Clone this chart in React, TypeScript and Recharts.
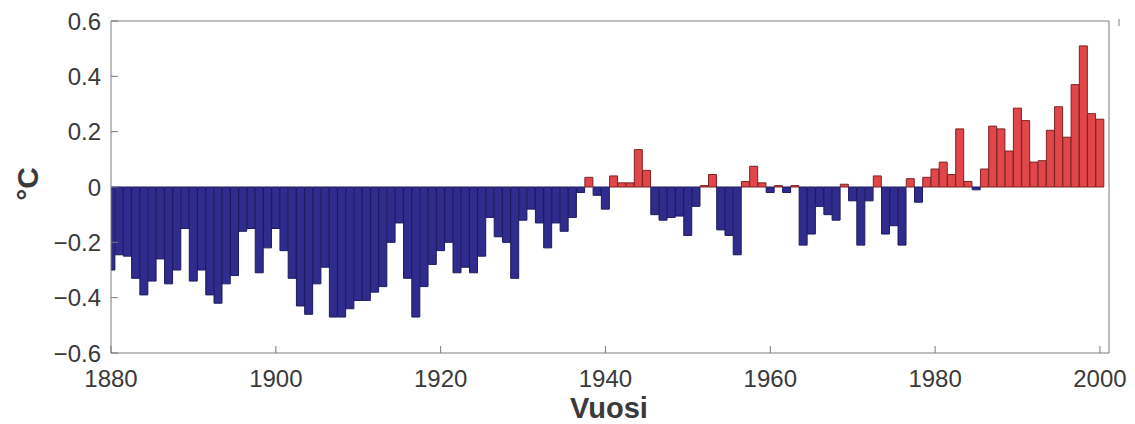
import { BarChart, Bar, XAxis, YAxis, Cell, ReferenceLine } from "recharts";

// vuosittaiset lämpötilapoikkeamat 1880–2000 (°C), luettu kuvasta
const FIRST_YEAR = 1880;
const anomalies = [
  -0.30, -0.245, -0.25, -0.33, -0.39, -0.34, -0.26, -0.35, -0.30, -0.15,
  -0.34, -0.30, -0.39, -0.42, -0.35, -0.32, -0.16, -0.15, -0.31, -0.22,
  -0.15, -0.23, -0.33, -0.43, -0.46, -0.35, -0.29, -0.47, -0.47, -0.44,
  -0.41, -0.41, -0.38, -0.36, -0.20, -0.13, -0.33, -0.47, -0.36, -0.28,
  -0.23, -0.20, -0.31, -0.29, -0.31, -0.25, -0.11, -0.18, -0.20, -0.33,
  -0.12, -0.08, -0.13, -0.22, -0.13, -0.16, -0.11, -0.02, 0.035, -0.03,
  -0.08, 0.04, 0.015, 0.015, 0.135, 0.06, -0.10, -0.12, -0.11, -0.105,
  -0.175, -0.07, 0.005, 0.045, -0.155, -0.175, -0.245, 0.02, 0.075, 0.015,
  -0.02, 0.005, -0.02, 0.005, -0.21, -0.17, -0.07, -0.10, -0.12, 0.01,
  -0.05, -0.21, -0.05, 0.04, -0.17, -0.14, -0.21, 0.03, -0.055, 0.035,
  0.065, 0.09, 0.045, 0.21, 0.02, -0.01, 0.065, 0.22, 0.21, 0.13,
  0.285, 0.24, 0.09, 0.095, 0.205, 0.29, 0.18, 0.37, 0.51, 0.265,
  0.245,
];
const xTicks = [1880, 1900, 1920, 1940, 1960, 1980, 2000];
const yTicks = [-0.6, -0.4, -0.2, 0, 0.2, 0.4, 0.6];
const X_DOMAIN = [1880, 2001.1];
const Y_DOMAIN = [-0.6, 0.6];

const data = anomalies.map((v, i) => ({ year: FIRST_YEAR + i, value: v }));

const AXIS = "#7a7a7a";
const TEXT = "#3a3a3a";
const BLUE = "#302c8e";
const BLUE_EDGE = "#1d1b5e";
const RED = "#e1474a";
const RED_EDGE = "#7d2222";
const FONT = "'Liberation Sans', Arial, Helvetica, sans-serif";

const fmtY = (v: number) => (v === 0 ? "0" : v < 0 ? `\u2212${Math.abs(v).toFixed(1)}` : v.toFixed(1));

const BottomTick = (props: any) => {
  const { x, y, payload } = props;
  return (
    <g>
      <line x1={x} y1={y} x2={x} y2={y - 7} stroke={AXIS} />
      <text x={x} y={y + 34} textAnchor="middle" fill={TEXT} fontSize={24} fontFamily={FONT}>
        {payload.value}
      </text>
    </g>
  );
};

const TopTick = (props: any) => {
  const { x, y } = props;
  return <line x1={x} y1={y} x2={x} y2={y + 7} stroke={AXIS} />;
};

const LeftTick = (props: any) => {
  const { x, y, payload } = props;
  return (
    <g>
      <line x1={x} y1={y} x2={x + 7} y2={y} stroke={AXIS} />
      <text x={x - 10} y={y + 8.5} textAnchor="end" fill={TEXT} fontSize={24} fontFamily={FONT}>
        {fmtY(payload.value)}
      </text>
    </g>
  );
};

const RightTick = (props: any) => {
  const { x, y } = props;
  return <line x1={x} y1={y} x2={x - 7} y2={y} stroke={AXIS} />;
};

export default function App() {
  return (
    <BarChart
      width={1127}
      height={416}
      data={data}
      margin={{ top: 12, right: 25, left: 30, bottom: 38 }}
      barCategoryGap={0}
      barGap={0}
    >
      <XAxis
        dataKey="year"
        type="number"
        domain={X_DOMAIN}
        allowDataOverflow
        ticks={xTicks}
        height={33}
        stroke={AXIS}
        tickSize={0}
        tickMargin={0}
        tick={<BottomTick />}
        label={{
          content: () => (
            <text x={601} y={410} textAnchor="middle" fill={TEXT} fontSize={29} fontWeight="bold" fontFamily={FONT}>
              Vuosi
            </text>
          ),
        }}
      />
      <XAxis
        xAxisId="top"
        orientation="top"
        type="number"
        domain={X_DOMAIN}
        ticks={xTicks}
        height={1}
        axisLine={false}
        tickSize={0}
        tick={<TopTick />}
      />
      <YAxis
        domain={Y_DOMAIN}
        ticks={yTicks}
        width={73}
        stroke={AXIS}
        tickSize={0}
        tickMargin={0}
        tick={<LeftTick />}
        label={{
          content: () => (
            <text
              x={19}
              y={176}
              textAnchor="middle"
              dominantBaseline="central"
              transform="rotate(-90, 19, 176)"
              fill={TEXT}
              fontSize={30}
              fontWeight="bold"
              fontFamily={FONT}
            >
              °C
            </text>
          ),
        }}
      />
      <YAxis
        yAxisId="right"
        orientation="right"
        domain={Y_DOMAIN}
        ticks={yTicks}
        width={1}
        axisLine={false}
        tickSize={0}
        tick={<RightTick />}
      />
      <Bar dataKey="value" isAnimationActive={false} strokeWidth={1}>
        {data.map((d) => (
          <Cell
            key={d.year}
            fill={d.value >= 0 ? RED : BLUE}
            stroke={d.value >= 0 ? RED_EDGE : BLUE_EDGE}
          />
        ))}
      </Bar>
      <ReferenceLine y={0.6} stroke={AXIS} />
      <ReferenceLine x={2001.1} stroke={AXIS} />
    </BarChart>
  );
}
